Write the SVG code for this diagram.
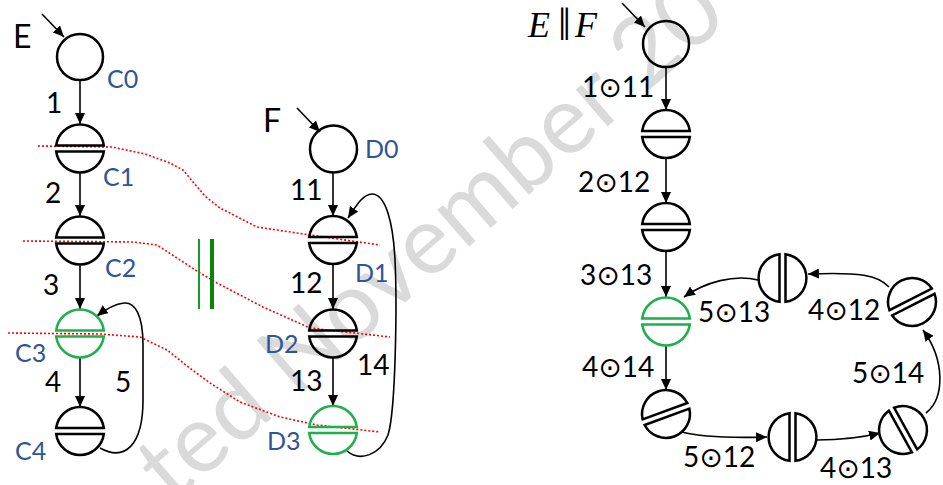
<svg xmlns="http://www.w3.org/2000/svg" xmlns:xlink="http://www.w3.org/1999/xlink" width="943" height="485" viewBox="0 0 943 485">
<style>
.wm{font-family:Lato,"Liberation Sans",sans-serif;font-size:96px;fill:#dadada}
.nd{fill:none;stroke:#000;stroke-width:2.5}
.gr{fill:none;stroke:#1db04c;stroke-width:2.5}
.ed{fill:none;stroke:#000;stroke-width:1.6}
.cut{fill:none;stroke:#ff0000;stroke-width:1.6;stroke-dasharray:2 2}
.lb{font-family:Lato,"Liberation Sans",sans-serif;font-size:25px;fill:#2e5597}
.num{font-family:Lato,"DejaVu Sans",sans-serif;font-size:28px;fill:#000}
.big{font-family:Lato,"Liberation Sans",sans-serif;font-size:32px;fill:#000}
.math{font-family:"Liberation Serif","DejaVu Serif",serif;font-size:36px;fill:#000}
</style>
<defs>
<marker id="ah" markerUnits="userSpaceOnUse" markerWidth="11" markerHeight="10" refX="11" refY="5" orient="auto">
<path d="M0,0 L11,5 L0,10 Z" fill="#000"/>
</marker>
<path id="split" d="M-23.8,-3 A24,24 0 0 1 23.8,-3 Z M-23.8,3 A24,24 0 0 0 23.8,3 Z"/>
</defs>
<rect width="943" height="485" fill="#fff"/>
<text class="wm" transform="translate(172,505) rotate(-41)">ted November 20</text>

<g id="cuts">
<polyline class="cut" points="38,146 112,147 145,154 170,163 183,170 193,182 205,196 220,208 257,227 310,235 380,245"/>
<polyline class="cut" points="23,241 133,242 157,245 177,258 200,273 217,283 263,307 310,328 390,337"/>
<polyline class="cut" points="8,333 100,334 140,337 167,350 187,366 210,383 240,402 280,417 317,425 380,432"/>
</g>
<g id="parallel">
<line x1="199" y1="239" x2="199" y2="309" stroke="#1a9a2a" stroke-width="2"/>
<line x1="212" y1="239" x2="212" y2="309" stroke="#0a850a" stroke-width="4"/>
</g>

<g id="connectors">
<line class="ed" x1="42" y1="14" x2="64" y2="37" marker-end="url(#ah)"/>
<line class="ed" x1="80" y1="80" x2="80" y2="124" marker-end="url(#ah)"/>
<line class="ed" x1="80" y1="173" x2="80" y2="216" marker-end="url(#ah)"/>
<line class="ed" x1="80" y1="265" x2="80" y2="309" marker-end="url(#ah)"/>
<line class="ed" x1="80" y1="358" x2="80" y2="407" marker-end="url(#ah)"/>
<path class="ed" d="M100,448 C125,462 143,445 143,400 L143,345 C143,315 135,302 124,303 C115,304 106,309 97,316" marker-end="url(#ah)"/>

<line class="ed" x1="297" y1="108" x2="320" y2="132" marker-end="url(#ah)"/>
<line class="ed" x1="333" y1="172" x2="333" y2="216" marker-end="url(#ah)"/>
<line class="ed" x1="333" y1="264" x2="333" y2="309" marker-end="url(#ah)"/>
<line class="ed" x1="333" y1="358" x2="333" y2="406" marker-end="url(#ah)"/>
<path class="ed" d="M347,451 C360,462 380,455 388,435 C396,410 397,300 395,260 C393,220 385,194 372,194 C363,194 356,206 348,218" marker-end="url(#ah)"/>

<line class="ed" x1="622" y1="3" x2="645" y2="27" marker-end="url(#ah)"/>
<line class="ed" x1="666" y1="67" x2="666" y2="110" marker-end="url(#ah)"/>
<line class="ed" x1="666" y1="158" x2="666" y2="203" marker-end="url(#ah)"/>
<line class="ed" x1="666" y1="251" x2="666" y2="297" marker-end="url(#ah)"/>
<line class="ed" x1="666" y1="346" x2="666" y2="390" marker-end="url(#ah)"/>
<path class="ed" d="M682,432 C700,437 730,438 767,437" marker-end="url(#ah)"/>
<path class="ed" d="M817,440 C840,440 860,438 880,433" marker-end="url(#ah)"/>
<path class="ed" d="M926,413 C945,398 945,360 923,330" marker-end="url(#ah)"/>
<path class="ed" d="M889,287 C878,275 860,272 808,274" marker-end="url(#ah)"/>
<path class="ed" d="M758,280 C735,274 705,282 684,297" marker-end="url(#ah)"/>
</g>

<text class="big" x="13" y="48">E</text>
<g id="C0"><circle class="nd" cx="80" cy="57" r="23"/><text class="lb" x="107" y="88">C0</text></g>
<g id="C1"><use href="#split" class="nd" transform="translate(80,148.5)"/><text class="lb" x="103" y="186">C1</text></g>
<g id="C2"><use href="#split" class="nd" transform="translate(80,240.5)"/><text class="lb" x="105" y="277">C2</text></g>
<g id="C3"><use href="#split" class="gr" transform="translate(80,333.5)"/><text class="lb" x="15" y="362">C3</text></g>
<g id="C4"><use href="#split" class="nd" transform="translate(80,431)"/><text class="lb" x="15" y="460">C4</text></g>
<g id="labelsE">
<text class="num" x="46" y="113">1</text>
<text class="num" x="45" y="203">2</text>
<text class="num" x="43" y="295">3</text>
<text class="num" x="45" y="392">4</text>
<text class="num" x="115" y="392">5</text>
</g>

<text class="big" x="263" y="132">F</text>
<g id="D0"><circle class="nd" cx="333.5" cy="149" r="23.5"/><text class="lb" x="365" y="158">D0</text></g>
<g id="D1"><use href="#split" class="nd" transform="translate(333,240)"/><text class="lb" x="355" y="282">D1</text></g>
<g id="D2"><use href="#split" class="nd" transform="translate(333,333.5)"/><text class="lb" x="265" y="353">D2</text></g>
<g id="D3"><use href="#split" class="gr" transform="translate(333,430)"/><text class="lb" x="267" y="450">D3</text></g>
<g id="labelsF">
<text class="num" x="290" y="200">11</text>
<text class="num" x="290" y="293">12</text>
<text class="num" x="290" y="391">13</text>
<text class="num" x="357" y="375">14</text>
</g>

<text class="math" y="37"><tspan x="528" font-style="italic">E</tspan><tspan x="558" font-size="46" dy="3">‖</tspan><tspan x="575" font-style="italic" dy="-3">F</tspan></text>
<g id="P0"><circle class="nd" cx="666" cy="44" r="23"/></g>
<g id="P1"><use href="#split" class="nd" transform="translate(666,134)"/></g>
<g id="P2"><use href="#split" class="nd" transform="translate(666,227)"/></g>
<g id="P3"><use href="#split" class="gr" transform="translate(666,321.5)"/></g>
<g id="P4"><use href="#split" class="nd" transform="translate(666,414) rotate(-20)"/></g>
<g id="P5"><use href="#split" class="nd" transform="translate(792.5,437) rotate(90)"/></g>
<g id="P6"><use href="#split" class="nd" transform="translate(903,430) rotate(61)"/></g>
<g id="P7"><use href="#split" class="nd" transform="translate(912,302) rotate(-27)"/></g>
<g id="P8"><use href="#split" class="nd" transform="translate(782.5,278) rotate(90)"/></g>
<g id="labelsP">
<text class="num" x="582" y="97">1⊙11</text>
<text class="num" x="578" y="192">2⊙12</text>
<text class="num" x="580" y="285">3⊙13</text>
<text class="num" x="582" y="377">4⊙14</text>
<text class="num" x="698" y="322">5⊙13</text>
<text class="num" x="683" y="467">5⊙12</text>
<text class="num" x="820" y="478">4⊙13</text>
<text class="num" x="852" y="383">5⊙14</text>
<text class="num" x="808" y="320">4⊙12</text>
</g>
</svg>
